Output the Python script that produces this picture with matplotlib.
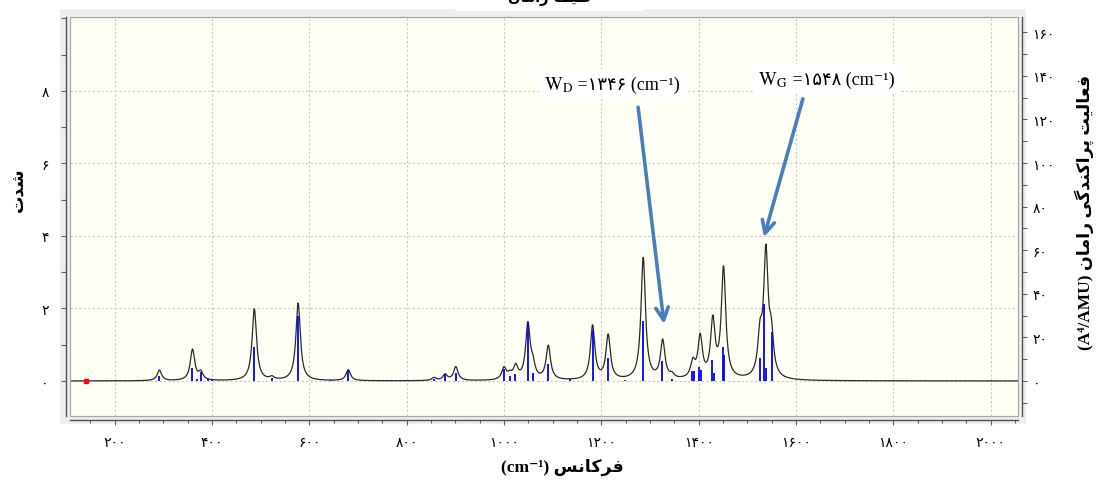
import numpy as np
import matplotlib
matplotlib.use("Agg")
import matplotlib.pyplot as plt
from matplotlib.patches import Rectangle
from matplotlib.offsetbox import TextArea, HPacker, AnnotationBbox
from matplotlib.ticker import MultipleLocator

plt.rcParams["mathtext.fontset"] = "stix"

# ---------------- data ----------------
# broadened spectrum: peak centres (cm-1) and observed heights (left axis)
curve_centers = [292, 360, 377, 487, 523, 577, 680, 856, 879, 901,
                 1000, 1012, 1024, 1049, 1059, 1091, 1136, 1182, 1214, 1249,
                 1286, 1326, 1345, 1388, 1403, 1429, 1451, 1526, 1538, 1549]
curve_heights = [0.30, 0.88, 0.30, 1.99, 0.15, 2.15, 0.31, 0.10, 0.20, 0.40,
                 0.40, 0.30, 0.49, 1.64, 0.75, 0.99, 0.05, 1.55, 1.30, 0.07,
                 3.41, 1.16, 0.26, 0.65, 1.32, 1.82, 3.18, 1.71, 3.78, 1.78]
curve_hwhm = 5.5

# stick spectrum: frequencies (cm-1) and Raman activities (right axis)
stick_freq = [292, 360, 369, 377, 392, 400, 487, 523, 577, 645,
              680, 766, 786, 856, 879, 901, 1000, 1013, 1023, 1050,
              1060, 1091, 1136, 1182, 1214, 1249, 1286, 1325, 1345, 1387,
              1390, 1400, 1404, 1428, 1431, 1449, 1452, 1525, 1535, 1538, 1550]
stick_act = [2.3, 6.0, 1.0, 4.0, 0.8, 0.5, 15.6, 1.5, 30.0, 0.5,
             5.2, 0.5, 0.5, 0.8, 3.0, 3.5, 5.5, 2.3, 3.4, 26.0,
             3.8, 7.6, 1.0, 23.5, 10.4, 0.5, 27.7, 9.0, 1.0, 4.4,
             4.4, 6.6, 5.0, 9.8, 3.5, 15.5, 12.0, 10.5, 35.3, 6.0, 22.3]

marker_x = [141]
marker_y = [0]

x_ticks = [200, 400, 600, 800, 1000, 1200, 1400, 1600, 1800, 2000]
left_ticks = [0, 2, 4, 6, 8]
right_ticks = [0, 20, 40, 60, 80, 100, 120, 140, 160]

# ---------------- helpers: Persian digits and shaping ----------------
FA_DIGITS = str.maketrans("0123456789", "۰۱۲۳۴۵۶۷۸۹")


def fa_num(v):
    return str(v).translate(FA_DIGITS)


FORMS = {
    'ا': ('\uFE8D', '\uFE8E', None, None),
    'ت': ('\uFE95', '\uFE96', '\uFE97', '\uFE98'),
    'د': ('\uFEA9', '\uFEAA', None, None),
    'ر': ('\uFEAD', '\uFEAE', None, None),
    'س': ('\uFEB1', '\uFEB2', '\uFEB3', '\uFEB4'),
    'ش': ('\uFEB5', '\uFEB6', '\uFEB7', '\uFEB8'),
    'ط': ('\uFEC1', '\uFEC2', '\uFEC3', '\uFEC4'),
    'ع': ('\uFEC9', '\uFECA', '\uFECB', '\uFECC'),
    'ف': ('\uFED1', '\uFED2', '\uFED3', '\uFED4'),
    'ل': ('\uFEDD', '\uFEDE', '\uFEDF', '\uFEE0'),
    'م': ('\uFEE1', '\uFEE2', '\uFEE3', '\uFEE4'),
    'ن': ('\uFEE5', '\uFEE6', '\uFEE7', '\uFEE8'),
    'ی': ('\uFBFC', '\uFBFD', '\uFBFE', '\uFBFF'),
    'پ': ('\uFB56', '\uFB57', '\uFB58', '\uFB59'),
    'ک': ('\uFB8E', '\uFB8F', '\uFB90', '\uFB91'),
    'گ': ('\uFB92', '\uFB93', '\uFB94', '\uFB95'),
}


def fa(text):
    out = []
    n = len(text)
    for i, c in enumerate(text):
        if c not in FORMS:
            out.append(c)
            continue
        iso, fin, ini, med = FORMS[c]
        prev = text[i - 1] if i > 0 else None
        nxt = text[i + 1] if i < n - 1 else None
        jp = prev in FORMS and FORMS[prev][2] is not None
        jn = nxt in FORMS and ini is not None
        if jp and jn:
            out.append(med)
        elif jp:
            out.append(fin)
        elif jn:
            out.append(ini)
        else:
            out.append(iso)
    return ''.join(reversed(out))


# ---------------- figure ----------------
W, H = 1099, 481
fig = plt.figure(figsize=(W / 100, H / 100), dpi=100)
fig.patch.set_facecolor("white")

# grey panel behind the plot
fig.add_artist(Rectangle((60 / W, 1 - 425 / H), (1026 - 60) / W, (425 - 10) / H,
                         transform=fig.transFigure, facecolor="#eeeeee",
                         edgecolor="none", zorder=-10))

ax_l, ax_r, ax_t, ax_b = 69.5, 1018, 18, 417
ax = fig.add_axes([ax_l / W, 1 - ax_b / H, (ax_r - ax_l) / W, (ax_b - ax_t) / H])
ax.set_facecolor("#fffff6")

xmin, xmax = 107.3, 2056
ymin, ymax = -0.966, 10.04
ax.set_xlim(xmin, xmax)
ax.set_ylim(ymin, ymax)

# curve from the peak list (Lorentzian broadening)
c = np.array(curve_centers, float)
h = np.array(curve_heights, float)
M = 1.0 / (1.0 + ((c[:, None] - c[None, :]) / curve_hwhm) ** 2)
amps = np.clip(np.linalg.solve(M, h), 0, None)
xs = np.linspace(xmin, xmax, 6000)
ys = (amps[None, :] / (1.0 + ((xs[:, None] - c[None, :]) / curve_hwhm) ** 2)).sum(axis=1)
ax.plot(xs, ys, color="#2a2a2a", lw=0.9, zorder=3)
ax.plot(marker_x, marker_y, "s", color="red", ms=3.5, zorder=5)

ax.grid(True, which="major", color="#c8c8c8", ls=(0, (2, 2)), lw=0.8)
ax.set_axisbelow(True)

# frame
ax.add_patch(Rectangle((0, 0), 1, 1, transform=ax.transAxes, fill=False,
                       edgecolor="#a8a8a8", lw=0.9, clip_on=False, zorder=6))

# right axis and sticks
ax2 = ax.twinx()
ax2.set_ylim(-16.06, 167.0)
ax2.vlines(stick_freq, 0, stick_act, colors="#0000ff", lw=1.3, zorder=4)

tick_font = dict(family=["DejaVu Sans"], weight="bold", size=9.5)

ax.set_xticks(x_ticks)
ax.set_xticklabels([fa_num(v) for v in x_ticks], **tick_font)
ax.xaxis.set_minor_locator(MultipleLocator(50))
ax.set_yticks(left_ticks)
ax.set_yticklabels([fa_num(v) for v in left_ticks], **tick_font)
ax.yaxis.set_minor_locator(MultipleLocator(1))
ax2.set_yticks(right_ticks)
ax2.set_yticklabels([fa_num(v) for v in right_ticks], **tick_font)
ax2.yaxis.set_minor_locator(MultipleLocator(10))

for a in (ax, ax2):
    for s in a.spines.values():
        s.set_visible(False)

ax.spines["left"].set_visible(True)
ax.spines["left"].set_position(("outward", 2.5))
ax.spines["bottom"].set_visible(True)
ax.spines["bottom"].set_position(("outward", 3))
ax2.spines["right"].set_visible(True)
ax2.spines["right"].set_position(("outward", 3))
for s in (ax.spines["left"], ax.spines["bottom"], ax2.spines["right"]):
    s.set_color("#505050")
    s.set_linewidth(1.0)

ax.tick_params(axis="x", which="major", direction="out", length=3.5, width=0.8,
               color="#606060", pad=7)
ax.tick_params(axis="x", which="minor", direction="out", length=2.5, width=0.8,
               color="#606060")
ax.tick_params(axis="y", which="major", direction="out", length=3.5, width=0.8,
               color="#606060", pad=9)
ax.tick_params(axis="y", which="minor", direction="out", length=3.5, width=0.8,
               color="#606060")
ax2.tick_params(axis="y", which="major", direction="out", length=3.5, width=0.8,
                color="#606060", pad=4)
ax2.tick_params(axis="y", which="minor", direction="out", length=3.5, width=0.8,
                color="#606060")

# ---------------- labels ----------------
lab_font = dict(family=["Liberation Serif", "DejaVu Sans"], weight="bold", size=12.5)
fig.text(18 / W, 1 - 190 / H, fa("شدت"), rotation=90, ha="center", va="center", **lab_font)
fig.text(1084 / W, 1 - 212 / H, "(A⁴/AMU) " + fa("فعالیت پراکندگی رامان"),
         rotation=90, ha="center", va="center", **lab_font)
fig.text(562 / W, 1 - 467 / H, "(cm⁻¹) " + fa("فرکانس"), ha="center", va="center",
         **lab_font)

# title (cut at the top edge, as in the reference)
fig.add_artist(Rectangle((455 / W, 1 - 12 / H), (643 - 455) / W, 12 / H,
                         transform=fig.transFigure, facecolor="white",
                         edgecolor="none", zorder=-5))
fig.text(549 / W, 1 + 1 / H, fa("طیف رامان"), ha="center", va="center",
         family=["DejaVu Sans"], weight="bold", size=10.5)

# ---------------- annotations ----------------
serif = ["Liberation Serif", "DejaVu Sans"]


def label_box(sub, value, xy):
    t1 = TextArea(r"$\mathrm{W}_{\mathrm{%s}}$" % sub, textprops=dict(size=13.5))
    t2 = TextArea(" =" + fa_num(value) + " (cm⁻¹)",
                  textprops=dict(size=13, family=serif))
    pack = HPacker(children=[t1, t2], align="baseline", pad=0, sep=0)
    ab = AnnotationBbox(pack, xy, xycoords="data", frameon=True,
                        box_alignment=(0.5, 0.5), pad=0.4,
                        bboxprops=dict(facecolor="white", edgecolor="none"),
                        zorder=7, annotation_clip=False)
    ax.add_artist(ab)


label_box("D", 1346, (1222, 8.19))
label_box("G", 1548, (1662, 8.33))

for start, tip in [((1275.5, 7.55), (1328.8, 1.57)), ((1614, 7.78), (1534, 3.97))]:
    ax.annotate("", xy=tip, xytext=start, xycoords="data",
                arrowprops=dict(arrowstyle="->,head_length=0.9,head_width=0.45",
                                color="#4a7ebb", lw=2.6, shrinkA=0, shrinkB=0),
                zorder=8)

fig.savefig("out.png", dpi=100, facecolor="white")
